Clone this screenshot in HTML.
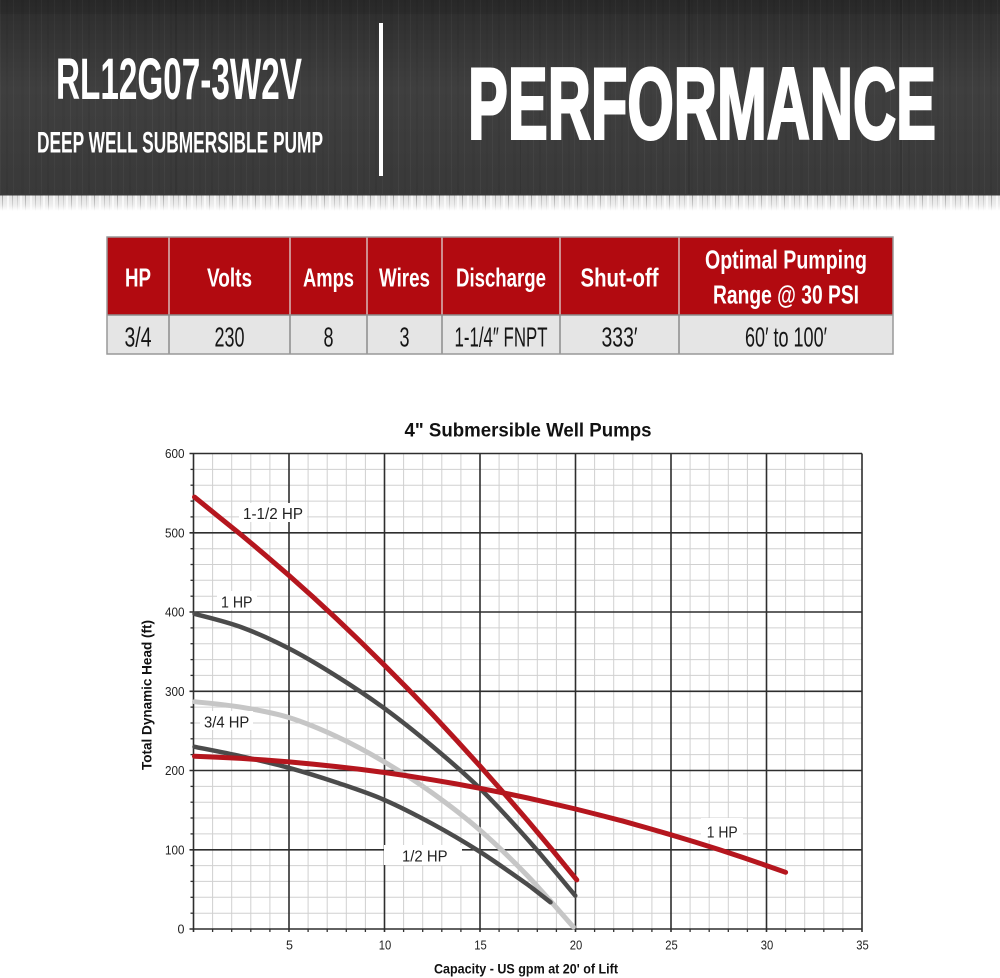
<!DOCTYPE html>
<html><head><meta charset="utf-8"><style>
html,body{margin:0;padding:0;background:#fff;}
svg{display:block;}
text{font-family:"Liberation Sans",Arial,sans-serif;}
</style></head><body>
<svg width="1000" height="978" viewBox="0 0 1000 978" xmlns="http://www.w3.org/2000/svg">
<defs>
<linearGradient id="bg" x1="0" y1="0" x2="0" y2="1">
<stop offset="0" stop-color="#2c2c2c"/><stop offset="0.45" stop-color="#3f3f3f"/><stop offset="1" stop-color="#393939"/>
</linearGradient>
<pattern id="grain" width="41" height="196" patternUnits="userSpaceOnUse">
<rect x="0" y="0" width="1" height="196" fill="#fff" opacity="0.035"/>
<rect x="6" y="0" width="2" height="196" fill="#000" opacity="0.05"/>
<rect x="13" y="0" width="1" height="196" fill="#fff" opacity="0.03"/>
<rect x="21" y="0" width="3" height="196" fill="#000" opacity="0.04"/>
<rect x="29" y="0" width="1" height="196" fill="#fff" opacity="0.04"/>
<rect x="35" y="0" width="2" height="196" fill="#000" opacity="0.035"/>
</pattern>
<pattern id="strip" width="23" height="16" patternUnits="userSpaceOnUse">
<rect x="0" y="0" width="23" height="16" fill="#e2e2e2"/>
<rect x="2" y="0" width="1" height="16" fill="#a5a5a5"/>
<rect x="7" y="0" width="2" height="16" fill="#f6f6f6"/>
<rect x="12" y="0" width="1" height="16" fill="#b5b5b5"/>
<rect x="17" y="0" width="1" height="16" fill="#c2c2c2"/>
<rect x="20" y="0" width="2" height="16" fill="#f6f6f6"/>
</pattern>
<linearGradient id="fade" x1="0" y1="0" x2="0" y2="1">
<stop offset="0" stop-color="#fff" stop-opacity="0"/><stop offset="0.6" stop-color="#fff" stop-opacity="0.4"/><stop offset="1" stop-color="#fff" stop-opacity="1"/>
</linearGradient>
</defs>

<!-- Banner -->
<rect x="0" y="0" width="1000" height="196" fill="url(#bg)"/>
<rect x="0" y="0" width="1000" height="196" fill="url(#grain)"/>
<rect x="175" y="0" width="3" height="196" fill="#000" opacity="0.1"/>
<rect x="520" y="0" width="2" height="196" fill="#000" opacity="0.1"/>
<rect x="688" y="0" width="2" height="196" fill="#000" opacity="0.1"/>
<rect x="900" y="0" width="2" height="196" fill="#000" opacity="0.1"/>
<rect x="0" y="0" width="1000" height="14" fill="#000" opacity="0.08"/>
<rect x="0" y="195" width="1000" height="16" fill="url(#strip)"/>
<rect x="0" y="195" width="1000" height="16" fill="url(#fade)"/>
<rect x="0" y="194" width="1000" height="1.5" fill="#3a3a3a"/>

<text x="56" y="99" font-size="58" font-weight="bold" fill="#fff" textLength="246" lengthAdjust="spacingAndGlyphs">RL12G07-3W2V</text>
<text x="37" y="152.3" font-size="29.5" font-weight="bold" fill="#fff" textLength="286" lengthAdjust="spacingAndGlyphs">DEEP WELL SUBMERSIBLE PUMP</text>
<rect x="379" y="23" width="4" height="153" fill="#fff"/>
<text x="468" y="138.5" font-size="101" font-weight="bold" fill="#fff" stroke="#fff" stroke-width="3" textLength="468" lengthAdjust="spacingAndGlyphs">PERFORMANCE</text>

<!-- Table -->
<rect x="107" y="237" width="786" height="78" fill="#b20a10"/>
<rect x="107" y="315" width="786" height="39" fill="#e5e5e5"/>
<g stroke="#d9b9b9" stroke-width="1.5">
<line x1="169" y1="237" x2="169" y2="315"/><line x1="290" y1="237" x2="290" y2="315"/>
<line x1="367" y1="237" x2="367" y2="315"/><line x1="442" y1="237" x2="442" y2="315"/>
<line x1="560" y1="237" x2="560" y2="315"/><line x1="679" y1="237" x2="679" y2="315"/>
</g>
<g stroke="#8c8c8c" stroke-width="1.5">
<line x1="169" y1="315" x2="169" y2="354"/><line x1="290" y1="315" x2="290" y2="354"/>
<line x1="367" y1="315" x2="367" y2="354"/><line x1="442" y1="315" x2="442" y2="354"/>
<line x1="560" y1="315" x2="560" y2="354"/><line x1="679" y1="315" x2="679" y2="354"/>
<line x1="107" y1="315" x2="893" y2="315"/>
</g>
<rect x="107" y="237" width="786" height="117" fill="none" stroke="#999" stroke-width="1.5"/>

<g font-weight="bold" font-size="26" fill="#fff" text-anchor="middle">
<text x="138" y="286.5" textLength="26" lengthAdjust="spacingAndGlyphs">HP</text>
<text x="229.5" y="286.5" textLength="45" lengthAdjust="spacingAndGlyphs">Volts</text>
<text x="328.5" y="286.5" textLength="51" lengthAdjust="spacingAndGlyphs">Amps</text>
<text x="404.5" y="286.5" textLength="51" lengthAdjust="spacingAndGlyphs">Wires</text>
<text x="501" y="286.5" textLength="90" lengthAdjust="spacingAndGlyphs">Discharge</text>
<text x="619.5" y="286.5" textLength="78" lengthAdjust="spacingAndGlyphs">Shut-off</text>
<text x="786" y="268.5" textLength="162" lengthAdjust="spacingAndGlyphs">Optimal Pumping</text>
<text x="786" y="303.5" textLength="146" lengthAdjust="spacingAndGlyphs">Range @ 30 PSI</text>
</g>
<g font-size="28" fill="#151515" text-anchor="middle">
<text x="138" y="346.5" textLength="27" lengthAdjust="spacingAndGlyphs">3/4</text>
<text x="229.5" y="346.5" textLength="30" lengthAdjust="spacingAndGlyphs">230</text>
<text x="328.5" y="346.5" textLength="10" lengthAdjust="spacingAndGlyphs">8</text>
<text x="404.5" y="346.5" textLength="10" lengthAdjust="spacingAndGlyphs">3</text>
<text x="501" y="346.5" textLength="93" lengthAdjust="spacingAndGlyphs">1-1/4″ FNPT</text>
<text x="619.5" y="346.5" textLength="36" lengthAdjust="spacingAndGlyphs">333′</text>
<text x="786" y="346.5" textLength="82" lengthAdjust="spacingAndGlyphs">60′ to 100′</text>
</g>

<!-- Chart title -->
<text x="528" y="436.7" font-size="19" font-weight="bold" fill="#111" text-anchor="middle" textLength="247" lengthAdjust="spacingAndGlyphs">4" Submersible Well Pumps</text>

<!-- Minor grid -->
<g stroke="#d0d0d0" stroke-width="1">
<line x1="212.6" y1="453.5" x2="212.6" y2="929"/><line x1="231.7" y1="453.5" x2="231.7" y2="929"/><line x1="250.8" y1="453.5" x2="250.8" y2="929"/><line x1="269.9" y1="453.5" x2="269.9" y2="929"/>
<line x1="308.1" y1="453.5" x2="308.1" y2="929"/><line x1="327.2" y1="453.5" x2="327.2" y2="929"/><line x1="346.3" y1="453.5" x2="346.3" y2="929"/><line x1="365.4" y1="453.5" x2="365.4" y2="929"/>
<line x1="403.6" y1="453.5" x2="403.6" y2="929"/><line x1="422.7" y1="453.5" x2="422.7" y2="929"/><line x1="441.8" y1="453.5" x2="441.8" y2="929"/><line x1="460.9" y1="453.5" x2="460.9" y2="929"/>
<line x1="499.1" y1="453.5" x2="499.1" y2="929"/><line x1="518.2" y1="453.5" x2="518.2" y2="929"/><line x1="537.3" y1="453.5" x2="537.3" y2="929"/><line x1="556.4" y1="453.5" x2="556.4" y2="929"/>
<line x1="594.6" y1="453.5" x2="594.6" y2="929"/><line x1="613.7" y1="453.5" x2="613.7" y2="929"/><line x1="632.8" y1="453.5" x2="632.8" y2="929"/><line x1="651.9" y1="453.5" x2="651.9" y2="929"/>
<line x1="690.1" y1="453.5" x2="690.1" y2="929"/><line x1="709.2" y1="453.5" x2="709.2" y2="929"/><line x1="728.3" y1="453.5" x2="728.3" y2="929"/><line x1="747.4" y1="453.5" x2="747.4" y2="929"/>
<line x1="785.6" y1="453.5" x2="785.6" y2="929"/><line x1="804.7" y1="453.5" x2="804.7" y2="929"/><line x1="823.8" y1="453.5" x2="823.8" y2="929"/><line x1="842.9" y1="453.5" x2="842.9" y2="929"/>
<line x1="193.5" y1="913.2" x2="862" y2="913.2"/><line x1="193.5" y1="897.3" x2="862" y2="897.3"/><line x1="193.5" y1="881.4" x2="862" y2="881.4"/><line x1="193.5" y1="865.6" x2="862" y2="865.6"/>
<line x1="193.5" y1="833.9" x2="862" y2="833.9"/><line x1="193.5" y1="818.0" x2="862" y2="818.0"/><line x1="193.5" y1="802.2" x2="862" y2="802.2"/><line x1="193.5" y1="786.4" x2="862" y2="786.4"/>
<line x1="193.5" y1="754.6" x2="862" y2="754.6"/><line x1="193.5" y1="738.8" x2="862" y2="738.8"/><line x1="193.5" y1="723.0" x2="862" y2="723.0"/><line x1="193.5" y1="707.1" x2="862" y2="707.1"/>
<line x1="193.5" y1="675.4" x2="862" y2="675.4"/><line x1="193.5" y1="659.6" x2="862" y2="659.6"/><line x1="193.5" y1="643.7" x2="862" y2="643.7"/><line x1="193.5" y1="627.9" x2="862" y2="627.9"/>
<line x1="193.5" y1="596.2" x2="862" y2="596.2"/><line x1="193.5" y1="580.3" x2="862" y2="580.3"/><line x1="193.5" y1="564.5" x2="862" y2="564.5"/><line x1="193.5" y1="548.7" x2="862" y2="548.7"/>
<line x1="193.5" y1="516.9" x2="862" y2="516.9"/><line x1="193.5" y1="501.1" x2="862" y2="501.1"/><line x1="193.5" y1="485.2" x2="862" y2="485.2"/><line x1="193.5" y1="469.4" x2="862" y2="469.4"/>
</g>
<!-- small ticks -->
<g stroke="#333" stroke-width="1.3">
<line x1="190.5" y1="913.2" x2="193.5" y2="913.2"/><line x1="190.5" y1="897.3" x2="193.5" y2="897.3"/><line x1="190.5" y1="881.4" x2="193.5" y2="881.4"/><line x1="190.5" y1="865.6" x2="193.5" y2="865.6"/>
<line x1="190.5" y1="833.9" x2="193.5" y2="833.9"/><line x1="190.5" y1="818.0" x2="193.5" y2="818.0"/><line x1="190.5" y1="802.2" x2="193.5" y2="802.2"/><line x1="190.5" y1="786.4" x2="193.5" y2="786.4"/>
<line x1="190.5" y1="754.6" x2="193.5" y2="754.6"/><line x1="190.5" y1="738.8" x2="193.5" y2="738.8"/><line x1="190.5" y1="723.0" x2="193.5" y2="723.0"/><line x1="190.5" y1="707.1" x2="193.5" y2="707.1"/>
<line x1="190.5" y1="675.4" x2="193.5" y2="675.4"/><line x1="190.5" y1="659.6" x2="193.5" y2="659.6"/><line x1="190.5" y1="643.7" x2="193.5" y2="643.7"/><line x1="190.5" y1="627.9" x2="193.5" y2="627.9"/>
<line x1="190.5" y1="596.2" x2="193.5" y2="596.2"/><line x1="190.5" y1="580.3" x2="193.5" y2="580.3"/><line x1="190.5" y1="564.5" x2="193.5" y2="564.5"/><line x1="190.5" y1="548.7" x2="193.5" y2="548.7"/>
<line x1="190.5" y1="516.9" x2="193.5" y2="516.9"/><line x1="190.5" y1="501.1" x2="193.5" y2="501.1"/><line x1="190.5" y1="485.2" x2="193.5" y2="485.2"/><line x1="190.5" y1="469.4" x2="193.5" y2="469.4"/>
<line x1="212.6" y1="929" x2="212.6" y2="932"/><line x1="231.7" y1="929" x2="231.7" y2="932"/><line x1="250.8" y1="929" x2="250.8" y2="932"/><line x1="269.9" y1="929" x2="269.9" y2="932"/>
<line x1="308.1" y1="929" x2="308.1" y2="932"/><line x1="327.2" y1="929" x2="327.2" y2="932"/><line x1="346.3" y1="929" x2="346.3" y2="932"/><line x1="365.4" y1="929" x2="365.4" y2="932"/>
<line x1="403.6" y1="929" x2="403.6" y2="932"/><line x1="422.7" y1="929" x2="422.7" y2="932"/><line x1="441.8" y1="929" x2="441.8" y2="932"/><line x1="460.9" y1="929" x2="460.9" y2="932"/>
<line x1="499.1" y1="929" x2="499.1" y2="932"/><line x1="518.2" y1="929" x2="518.2" y2="932"/><line x1="537.3" y1="929" x2="537.3" y2="932"/><line x1="556.4" y1="929" x2="556.4" y2="932"/>
<line x1="594.6" y1="929" x2="594.6" y2="932"/><line x1="613.7" y1="929" x2="613.7" y2="932"/><line x1="632.8" y1="929" x2="632.8" y2="932"/><line x1="651.9" y1="929" x2="651.9" y2="932"/>
<line x1="690.1" y1="929" x2="690.1" y2="932"/><line x1="709.2" y1="929" x2="709.2" y2="932"/><line x1="728.3" y1="929" x2="728.3" y2="932"/><line x1="747.4" y1="929" x2="747.4" y2="932"/>
<line x1="785.6" y1="929" x2="785.6" y2="932"/><line x1="804.7" y1="929" x2="804.7" y2="932"/><line x1="823.8" y1="929" x2="823.8" y2="932"/><line x1="842.9" y1="929" x2="842.9" y2="932"/>
</g>
<!-- Major grid -->
<g stroke="#2e2e2e" stroke-width="1.6">
<line x1="289" y1="453.5" x2="289" y2="932"/><line x1="384.5" y1="453.5" x2="384.5" y2="932"/><line x1="480" y1="453.5" x2="480" y2="932"/>
<line x1="575.5" y1="453.5" x2="575.5" y2="932"/><line x1="671" y1="453.5" x2="671" y2="932"/><line x1="766.5" y1="453.5" x2="766.5" y2="932"/>
<line x1="862" y1="453.5" x2="862" y2="932"/>
<line x1="189.5" y1="849.8" x2="862" y2="849.8"/><line x1="189.5" y1="770.5" x2="862" y2="770.5"/><line x1="189.5" y1="691.3" x2="862" y2="691.3"/>
<line x1="189.5" y1="612" x2="862" y2="612"/><line x1="189.5" y1="532.8" x2="862" y2="532.8"/><line x1="189.5" y1="453.5" x2="862" y2="453.5"/>
<line x1="189.5" y1="929" x2="862" y2="929"/>
<line x1="193.5" y1="453.5" x2="193.5" y2="932"/>
</g>

<!-- Tick labels -->
<g font-size="12.5" fill="#222" text-anchor="end">
<text x="184.5" y="458.2" textLength="19.5" lengthAdjust="spacingAndGlyphs">600</text>
<text x="184.5" y="537.5" textLength="19.5" lengthAdjust="spacingAndGlyphs">500</text>
<text x="184.5" y="616.7" textLength="19.5" lengthAdjust="spacingAndGlyphs">400</text>
<text x="184.5" y="696" textLength="19.5" lengthAdjust="spacingAndGlyphs">300</text>
<text x="184.5" y="775.2" textLength="19.5" lengthAdjust="spacingAndGlyphs">200</text>
<text x="184.5" y="854.5" textLength="19.5" lengthAdjust="spacingAndGlyphs">100</text>
<text x="184.5" y="933.7">0</text>
</g>
<g font-size="12.5" fill="#222" text-anchor="middle">
<text x="289.5" y="949.5">5</text>
<text x="385" y="949.5" textLength="12.5" lengthAdjust="spacingAndGlyphs">10</text>
<text x="480.5" y="949.5" textLength="12.5" lengthAdjust="spacingAndGlyphs">15</text>
<text x="576" y="949.5" textLength="12.5" lengthAdjust="spacingAndGlyphs">20</text>
<text x="671.5" y="949.5" textLength="12.5" lengthAdjust="spacingAndGlyphs">25</text>
<text x="767" y="949.5" textLength="12.5" lengthAdjust="spacingAndGlyphs">30</text>
<text x="862.5" y="949.5" textLength="12.5" lengthAdjust="spacingAndGlyphs">35</text>
</g>

<!-- Axis labels -->
<text x="526" y="973.3" font-size="14" font-weight="bold" fill="#111" text-anchor="middle" textLength="184" lengthAdjust="spacingAndGlyphs">Capacity - US gpm at 20' of Lift</text>
<text transform="translate(151.7,695) rotate(-90)" font-size="14" font-weight="bold" fill="#111" text-anchor="middle" textLength="150" lengthAdjust="spacingAndGlyphs">Total Dynamic Head (ft)</text>

<!-- Curves -->
<g fill="none" stroke-linejoin="round" stroke-linecap="round">
<!-- 3/4 HP light gray -->
<path stroke="#c6c6c6" stroke-width="5" d="M194.5,701.7 C202.3,702.6 225.4,704.6 241.1,707.2 C256.8,709.8 272.9,712.6 288.8,717.5 C304.7,722.4 320.7,729.1 336.6,736.5 C352.5,743.9 368.4,752.5 384.3,761.9 C400.2,771.3 416.2,781.5 432.1,792.8 C448.0,804.2 463.9,816.2 479.8,830 C495.7,843.9 512.0,859.7 527.6,875.9 C543.2,892.1 565.8,918.5 573.4,927"/>
<!-- 1/2 HP dark -->
<path stroke="#4b4b4b" stroke-width="4.5" d="M194.5,746.8 C202.3,748.4 225.4,752.8 241.1,756.3 C256.8,759.8 272.9,763.4 288.8,767.8 C304.7,772.2 320.7,777.2 336.6,782.5 C352.5,787.9 368.4,793.0 384.3,799.9 C400.2,806.8 416.2,815.1 432.1,823.7 C448.0,832.3 463.9,841.6 479.8,851.7 C495.7,861.9 515.8,876.2 527.6,884.6 C533.3,888.7 546.7,899.4 550.5,902.3"/>
<!-- 1 HP dark -->
<path stroke="#4b4b4b" stroke-width="4.5" d="M194.5,613.8 C202.3,616.0 225.4,621.3 241.1,627.1 C256.8,632.9 272.9,640.2 288.8,648.4 C304.7,656.6 320.7,666.2 336.6,676.2 C352.5,686.2 368.4,696.7 384.3,708.3 C400.2,719.9 416.2,732.7 432.1,746.0 C448.0,759.3 463.9,772.7 479.8,788.3 C495.7,803.9 511.7,821.5 527.6,839.4 C543.5,857.3 567.4,886.3 575.3,895.7"/>
<!-- 1 HP red (flat) -->
<polyline stroke="#b5161e" stroke-width="5" points="194.5,756.3 217.9,757.2 241.3,758.4 265.1,760.0 289,761.9 312.9,764.1 336.8,766.6 360.6,769.4 384.5,772.5 408.4,776.0 432.3,779.8 456.1,783.9 480,788.3 503.9,793.0 527.8,798.0 551.6,803.4 575.5,809.0 599.4,815.0 623.3,821.2 647.1,827.9 671,834.8 694.9,842.0 718.8,849.5 742.6,857.4 766.5,865.6 785.6,872.3"/>
<!-- 1-1/2 HP red -->
<polyline stroke="#b5161e" stroke-width="5" points="194.5,497.1 217.4,515.65 241.3,534.9 265.1,554.9 289,575.5 312.9,596.9 336.8,619.0 360.6,641.75 384.5,665.3 408.4,689.4 432.3,714.2 456.1,739.8 480,766.1 503.9,793.1 527.8,820.7 551.6,849.1 576.8,879.9"/>
</g>

<!-- Curve labels -->
<g fill="#fff">
<rect x="239" y="503" width="68" height="19"/>
<rect x="217" y="591" width="40" height="19"/>
<rect x="200" y="711" width="53" height="19"/>
<rect x="384" y="845" width="78" height="20"/>
<rect x="701" y="818" width="42" height="22"/>
</g>
<g font-size="16" fill="#222">
<text x="243" y="519" textLength="60" lengthAdjust="spacingAndGlyphs">1-1/2 HP</text>
<text x="221" y="607.3" textLength="31.5" lengthAdjust="spacingAndGlyphs">1 HP</text>
<text x="204" y="727.7" textLength="45.3" lengthAdjust="spacingAndGlyphs">3/4 HP</text>
<text x="402" y="861.7" textLength="45.5" lengthAdjust="spacingAndGlyphs">1/2 HP</text>
<text x="706.7" y="837.3" textLength="31" lengthAdjust="spacingAndGlyphs">1 HP</text>
</g>
</svg>
</body></html>
